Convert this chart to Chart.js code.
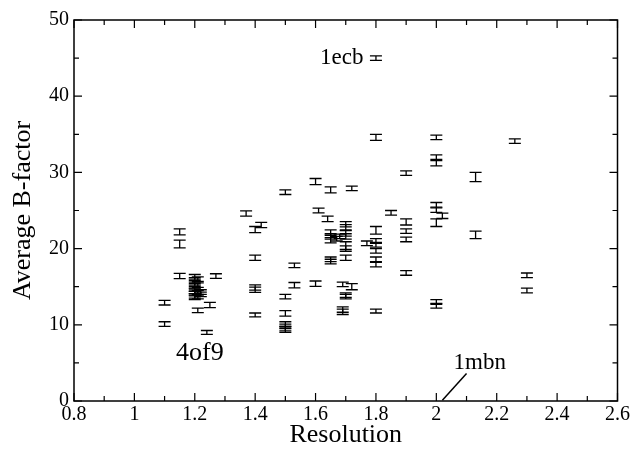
<!DOCTYPE html>
<html>
<head>
    <title>Average B-factor vs Resolution</title>
    <script src="https://cdn.jsdelivr.net/npm/chart.js"></script>
    <style>
        body { margin: 0; background: #fff; }
        canvas { display: block; }
    </style>
</head>
<body>
    <canvas id="bChart" width="632" height="449"></canvas>
    <script>
        // data: resolution (A), average B-factor, error
        const resolution = [
            1.10, 1.10, 1.15, 1.15, 1.15,
            1.20, 1.20, 1.20, 1.20, 1.20, 1.20, 1.20, 1.20, 1.20,
            1.21, 1.21, 1.21, 1.21, 1.22, 1.22, 1.21, 1.25, 1.24, 1.27,
            1.37, 1.40, 1.42, 1.40, 1.40, 1.40, 1.40,
            1.50, 1.50, 1.50, 1.50, 1.50, 1.50, 1.50, 1.53, 1.53,
            1.60, 1.61, 1.60, 1.64, 1.65, 1.65, 1.65, 1.65, 1.67, 1.68, 1.65, 1.65,
            1.70, 1.70, 1.70, 1.70, 1.70, 1.70, 1.70, 1.72, 1.69, 1.72, 1.70, 1.70, 1.69, 1.69,
            1.77, 1.80, 1.80, 1.80, 1.80, 1.80, 1.80, 1.80, 1.80, 1.80, 1.85,
            1.90, 1.90, 1.90, 1.90, 1.90,
            2.00, 2.00, 2.00, 2.00, 2.00, 2.00, 2.02, 2.00, 2.00,
            2.13, 2.13, 2.26, 2.30, 2.30
        ];
        const bfactor = [
            12.9, 10.1, 22.2, 20.6, 16.4,
            16.3, 15.9, 15.5, 15.1, 14.7, 14.4, 14.1, 13.8, 13.6,
            16.0, 15.2, 14.2, 13.7, 14.0, 14.3, 11.9, 12.6, 9.0, 16.4,
            24.6, 22.5, 23.1, 18.8, 14.9, 14.6, 11.3,
            27.4, 13.7, 11.5, 10.1, 9.8, 9.5, 9.3, 17.8, 15.2,
            28.8, 25.0, 15.4, 23.9, 27.7, 22.1, 21.6, 21.1, 21.3, 21.6, 18.6, 18.3,
            23.2, 22.8, 22.0, 21.6, 20.4, 20.0, 18.8, 27.9, 15.3, 15.0, 13.9, 13.7, 12.0, 11.7,
            20.7, 45.0, 34.6, 22.4, 21.0, 20.5, 19.7, 18.6, 17.9, 11.8, 24.7,
            29.9, 23.5, 22.3, 21.2, 16.8,
            34.6, 32.0, 31.2, 25.7, 25.1, 23.4, 24.3, 13.0, 12.5,
            29.4, 21.8, 34.1, 16.5, 14.5
        ];
        const bErr = [
            0.3, 0.3, 0.4, 0.5, 0.35,
            0.3, 0.3, 0.3, 0.3, 0.3, 0.3, 0.3, 0.3, 0.3,
            0.3, 0.3, 0.3, 0.3, 0.3, 0.3, 0.3, 0.35, 0.25, 0.3,
            0.35, 0.4, 0.35, 0.35, 0.35, 0.35, 0.25,
            0.3, 0.3, 0.35, 0.3, 0.3, 0.3, 0.3, 0.3, 0.35,
            0.4, 0.3, 0.35, 0.35, 0.4, 0.35, 0.35, 0.35, 0.3, 0.3, 0.3, 0.3,
            0.35, 0.35, 0.35, 0.35, 0.5, 0.35, 0.35, 0.3, 0.3, 0.4, 0.3, 0.3, 0.35, 0.35,
            0.3, 0.3, 0.4, 0.5, 0.3, 0.3, 0.3, 0.3, 0.3, 0.25, 0.3,
            0.3, 0.4, 0.3, 0.3, 0.3,
            0.3, 0.3, 0.35, 0.35, 0.35, 0.5, 0.35, 0.3, 0.3,
            0.6, 0.5, 0.3, 0.3, 0.3
        ];

        // labelled entries
        const labelNames = ['1ecb', '4of9', '1mbn'];
        const labelX = [1.687, 1.217, 2.144];
        const labelY = [45.0, 6.3, 5.0];
        const labelSize = [23, 26, 23];
        const pointerFrom = [2.02, 0.1];
        const pointerTo = [2.10, 3.6];

        const serif = '"Liberation Serif", "DejaVu Serif", serif';

        const points = resolution.map((r, i) => ({ x: r, y: bfactor[i] }));

        const errorBars = {
            id: 'errorBars',
            afterDatasetsDraw(chart) {
                const ctx = chart.ctx;
                const xs = chart.scales.x, ys = chart.scales.y;
                ctx.save();
                ctx.strokeStyle = '#000';
                ctx.lineWidth = 1.3;
                for (let i = 0; i < resolution.length; i++) {
                    const px = xs.getPixelForValue(resolution[i]);
                    const top = ys.getPixelForValue(bfactor[i] + bErr[i]);
                    const bot = ys.getPixelForValue(bfactor[i] - bErr[i]);
                    ctx.beginPath();
                    ctx.moveTo(px, top); ctx.lineTo(px, bot);
                    ctx.moveTo(px - 6, top); ctx.lineTo(px + 6, top);
                    ctx.moveTo(px - 6, bot); ctx.lineTo(px + 6, bot);
                    ctx.stroke();
                }
                ctx.restore();
            }
        };

        const frame = {
            id: 'frame',
            afterDraw(chart) {
                const ctx = chart.ctx;
                const a = chart.chartArea;
                const xs = chart.scales.x, ys = chart.scales.y;
                ctx.save();
                ctx.strokeStyle = '#000';
                ctx.lineWidth = 1.5;
                ctx.strokeRect(a.left, a.top, a.right - a.left, a.bottom - a.top);

                ctx.lineWidth = 1.2;
                ctx.beginPath();
                // x ticks, major + minor in between
                const xt = xs.ticks.map(t => t.value);
                xt.forEach((v, k) => {
                    const p = xs.getPixelForValue(v);
                    ctx.moveTo(p, a.bottom); ctx.lineTo(p, a.bottom - 8);
                    ctx.moveTo(p, a.top); ctx.lineTo(p, a.top + 8);
                    if (k < xt.length - 1) {
                        const m = xs.getPixelForValue((v + xt[k + 1]) / 2);
                        ctx.moveTo(m, a.bottom); ctx.lineTo(m, a.bottom - 5);
                        ctx.moveTo(m, a.top); ctx.lineTo(m, a.top + 5);
                    }
                });
                const yt = ys.ticks.map(t => t.value);
                yt.forEach((v, k) => {
                    const p = ys.getPixelForValue(v);
                    ctx.moveTo(a.left, p); ctx.lineTo(a.left + 8, p);
                    ctx.moveTo(a.right, p); ctx.lineTo(a.right - 8, p);
                    if (k < yt.length - 1) {
                        const m = ys.getPixelForValue((v + yt[k + 1]) / 2);
                        ctx.moveTo(a.left, m); ctx.lineTo(a.left + 5, m);
                        ctx.moveTo(a.right, m); ctx.lineTo(a.right - 5, m);
                    }
                });
                ctx.stroke();

                // labels for named structures
                ctx.fillStyle = '#000';
                ctx.textAlign = 'center';
                ctx.textBaseline = 'middle';
                labelNames.forEach((name, i) => {
                    ctx.font = labelSize[i] + 'px ' + serif;
                    ctx.fillText(name, xs.getPixelForValue(labelX[i]), ys.getPixelForValue(labelY[i]));
                });
                ctx.lineWidth = 1.5;
                ctx.beginPath();
                ctx.moveTo(xs.getPixelForValue(pointerFrom[0]), ys.getPixelForValue(pointerFrom[1]));
                ctx.lineTo(xs.getPixelForValue(pointerTo[0]), ys.getPixelForValue(pointerTo[1]));
                ctx.stroke();
                ctx.restore();
            }
        };

        new Chart(document.getElementById('bChart'), {
            type: 'scatter',
            data: {
                datasets: [{
                    data: points,
                    pointRadius: 0,
                    showLine: false
                }]
            },
            options: {
                responsive: false,
                animation: false,
                layout: { padding: { top: 20, right: 14, left: 0, bottom: 0 } },
                plugins: { legend: { display: false }, tooltip: { enabled: false } },
                scales: {
                    x: {
                        type: 'linear',
                        min: 0.8,
                        max: 2.6,
                        grid: { display: false, drawTicks: false, tickLength: 0 },
                        border: { display: false },
                        ticks: {
                            stepSize: 0.2,
                            color: '#000',
                            padding: 2,
                            maxRotation: 0,
                            font: { family: serif, size: 20 },
                            callback: v => String(Number(v.toFixed(1)))
                        },
                        title: {
                            display: true,
                            text: 'Resolution',
                            color: '#000',
                            font: { family: serif, size: 26 },
                            padding: { top: 0, bottom: -2 }
                        },
                        afterFit: s => { s.height = 48; }
                    },
                    y: {
                        min: 0,
                        max: 50,
                        grid: { display: false, drawTicks: false, tickLength: 0 },
                        border: { display: false },
                        ticks: {
                            stepSize: 10,
                            color: '#000',
                            padding: 5,
                            font: { family: serif, size: 20 }
                        },
                        title: {
                            display: true,
                            text: 'Average B-factor',
                            color: '#000',
                            font: { family: serif, size: 26 },
                            padding: { top: 8, bottom: 0 }
                        },
                        afterFit: s => { s.width = 74; }
                    }
                }
            },
            plugins: [errorBars, frame]
        });
    </script>
</body>
</html>
